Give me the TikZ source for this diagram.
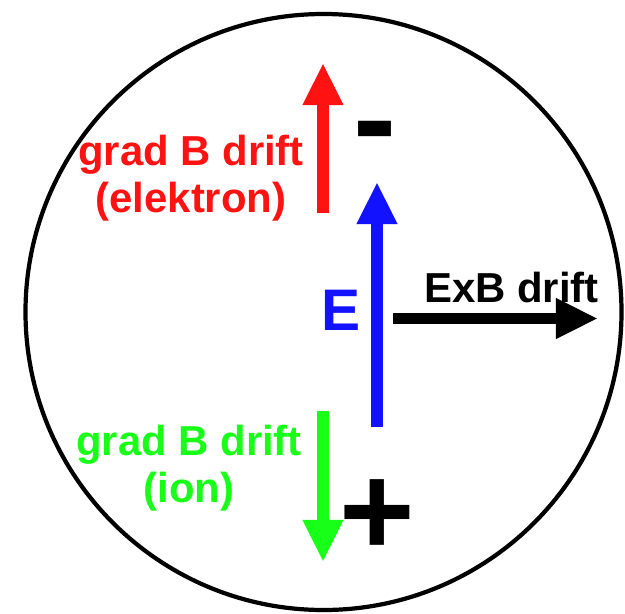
\documentclass[tikz,border=0pt]{standalone}
\usepackage{fontspec}
\setmainfont{Liberation Sans}
\usetikzlibrary{arrows.meta}
\definecolor{elred}{RGB}{255,18,18}
\definecolor{efblue}{RGB}{18,18,255}
\definecolor{iongreen}{RGB}{24,255,24}
\tikzset{
  drarr/.style={-{Triangle[length=30pt,width=27pt]}, line width=8.5pt},
  dlab/.style={font=\fontsize{29.8}{33.4}\selectfont\bfseries, align=center, inner sep=0pt},
  sgn/.style={font=\fontsize{92}{92}\selectfont\bfseries, inner sep=0pt},
}
\begin{document}
\begin{tikzpicture}[x=0.025cm, y=-0.025cm]
\useasboundingbox (0,0) rectangle (625,613);
\draw[line width=3pt] (323.5,312) circle[radius=298];
% drift arrows
\coordinate (eltail) at (323,213);
\coordinate (elhead) at (323,63);
\coordinate (etail) at (377,427);
\coordinate (ehead) at (377,182);
\coordinate (iontail) at (323,411);
\coordinate (ionhead) at (323,562);
\coordinate (exbtail) at (393,318.5);
\coordinate (exbhead) at (598,318.5);
\draw[drarr, elred] (eltail) -- (elhead);
\draw[drarr, efblue] (etail) -- (ehead);
\draw[drarr, iongreen] (iontail) -- (ionhead);
\draw[drarr, black] (exbtail) -- (exbhead);
% labels
\node[dlab, text=elred, anchor=base] (ellab) at (191,212) {grad B drift\\(elektron)};
\node[dlab, text=iongreen, anchor=base] (ionlab) at (189,502) {grad B drift\\(ion)};
\node[dlab, anchor=base] (exblab) at (511.5,302) {ExB drift};
\node[font=\fontsize{41.7}{42}\selectfont\bfseries, text=efblue, inner sep=0pt, anchor=base] (elab) at (341.5,330) {E};
\node[sgn] (minus) at (375.5,142) {-};
\node[sgn] (plus) at (377.5,518) {+};
\end{tikzpicture}
\end{document}
